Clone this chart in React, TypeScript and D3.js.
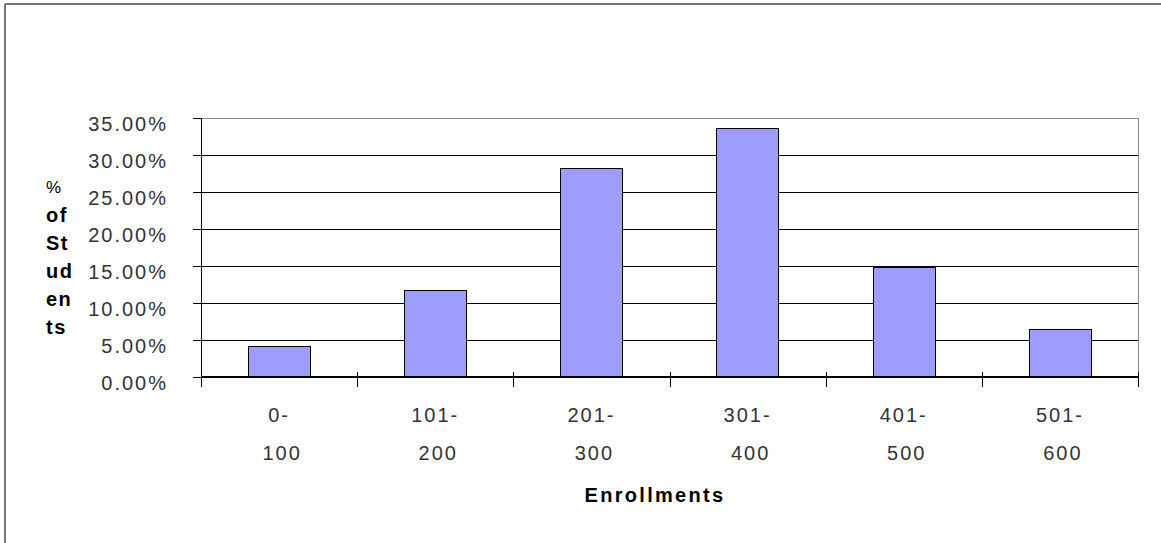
import React from 'react';
import * as d3 from 'd3';

// enrollment buckets and share of students
const categories = [['0-', '100'], ['101-', '200'], ['201-', '300'], ['301-', '400'], ['401-', '500'], ['501-', '600']];
const values = [0.042, 0.118, 0.283, 0.336, 0.149, 0.065];
const yTicks = [0, 0.05, 0.1, 0.15, 0.2, 0.25, 0.3, 0.35];
const yTitle = ['%', 'of', 'St', 'ud', 'en', 'ts'];
const xTitle = 'Enrollments';

const W = 1161;
const H = 543;
const left = 201, right = 1138, top = 118, zero = 377;
const font = 'Liberation Sans, Arial, sans-serif';

export default function App() {
  const x = d3.scaleBand<number>()
    .domain(d3.range(categories.length))
    .range([left, right])
    .padding(0);
  const y = d3.scaleLinear().domain([0, 0.35]).range([zero, top]);
  const fmt = d3.format('.2%');
  const bw = x.bandwidth() / 2.5;

  // band boundaries get the crossing tick marks
  const bounds = d3.range(categories.length + 1).map((i) => left + i * x.bandwidth());

  return (
    <div style={{ position: 'fixed', left: 0, top: 0 }}>
      <svg width={W} height={H} style={{ display: 'block', background: '#fff' }}>
        {/* outer frame, only top and left show */}
        <line x1={5} y1={4} x2={W} y2={4} stroke="#777" strokeWidth={2} />
        <line x1={5} y1={4} x2={5} y2={H} stroke="#777" strokeWidth={2} />

        {/* gridlines */}
        {yTicks.slice(1, -1).map((t) => (
          <line key={t} x1={left} x2={right} y1={Math.round(y(t)) + 0.5} y2={Math.round(y(t)) + 0.5} stroke="#000" />
        ))}
        {/* plot area border top/right */}
        <line x1={left} x2={right} y1={top + 0.5} y2={top + 0.5} stroke="#888" />
        <line x1={right + 0.5} x2={right + 0.5} y1={top} y2={zero} stroke="#888" />

        {/* bars */}
        {values.map((v, i) => (
          <rect
            key={i}
            x={Math.round((x(i) as number) + (x.bandwidth() - bw) / 2) + 0.5}
            y={Math.round(y(v)) + 0.5}
            width={Math.round(bw)}
            height={Math.round(zero - y(v))}
            fill="#9d9dfb"
            stroke="#000"
          />
        ))}

        {/* axes */}
        <line x1={left} x2={right + 1} y1={zero + 0.5} y2={zero + 0.5} stroke="#000" />
        <line x1={left} x2={right + 1} y1={zero - 0.5} y2={zero - 0.5} stroke="#000" />
        <line x1={left + 0.5} x2={left + 0.5} y1={top} y2={zero + 10} stroke="#000" />
        {yTicks.map((t) => (
          <line key={t} x1={left - 8} x2={left} y1={Math.round(y(t)) + 0.5} y2={Math.round(y(t)) + 0.5} stroke="#000" />
        ))}
        {bounds.map((b, i) => (
          <line key={i} x1={Math.round(b) + 0.5} x2={Math.round(b) + 0.5} y1={zero - 5} y2={zero + 10} stroke="#000" />
        ))}

        {/* y tick labels */}
        {yTicks.map((t) => (
          <text key={t} x={168} y={y(t) + 6} dy="0.35em" textAnchor="end" fontFamily={font}
            fontSize={20} letterSpacing={2} fill="#333">
            {fmt(t)}
          </text>
        ))}

        {/* x tick labels, wrapped on two lines */}
        {categories.map((c, i) => (
          <g key={i} fontFamily={font} fontSize={20} letterSpacing={2} fill="#333" textAnchor="middle">
            <text x={(x(i) as number) + x.bandwidth() / 2} y={415} dy="0.35em">{c[0]}</text>
            <text x={(x(i) as number) + x.bandwidth() / 2 + 3} y={453} dy="0.35em">{c[1]}</text>
          </g>
        ))}

        {/* y title, broken into pieces */}
        {yTitle.map((s, i) => (
          <text key={i} x={46} y={187 + i * 28} dy="0.35em" fontFamily={font}
            fontWeight={i === 0 ? 'normal' : 'bold'}
            fontSize={i === 0 ? 17 : 20} letterSpacing={1.5} fill="#000">
            {s}
          </text>
        ))}

        <text x={655} y={495} dy="0.35em" textAnchor="middle" fontFamily={font} fontWeight="bold"
          fontSize={20} letterSpacing={2.3} fill="#000">
          {xTitle}
        </text>
      </svg>
    </div>
  );
}
